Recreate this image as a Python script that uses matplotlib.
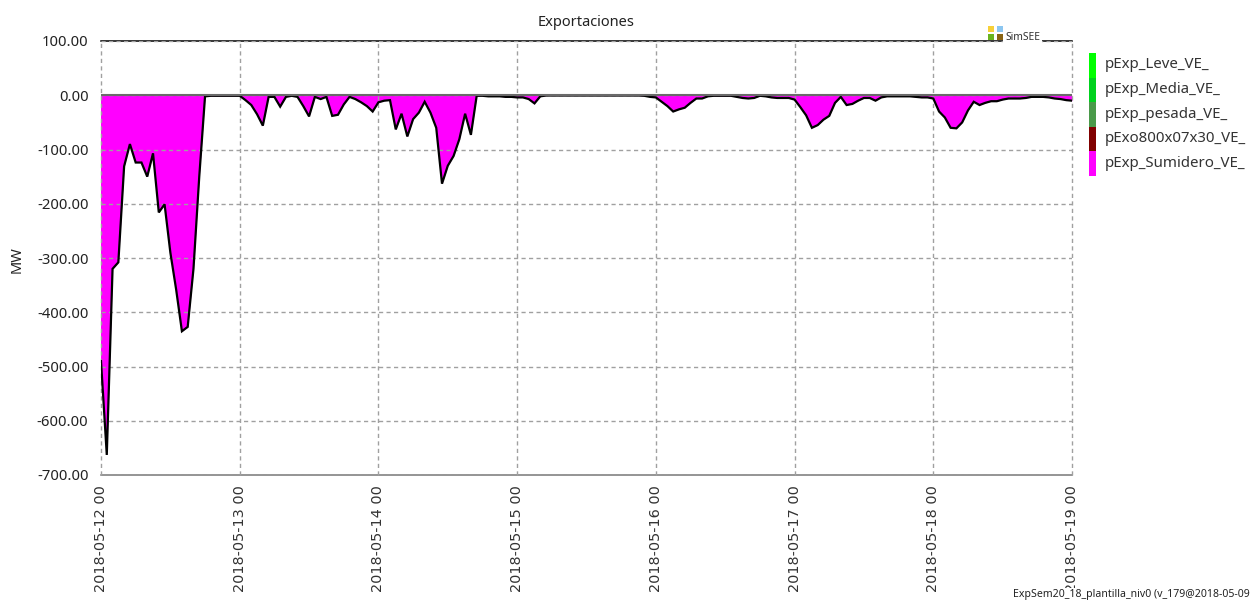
import matplotlib
matplotlib.use('Agg')
import matplotlib.pyplot as plt
import matplotlib.dates as mdates
from matplotlib.patches import Rectangle
import pandas as pd

plt.rcParams['font.family'] = ['Noto Sans', 'DejaVu Sans']

title = 'Exportaciones'
ylabel = 'MW'
footer = 'ExpSem20_18_plantilla_niv0 (v_179@2018-05-09'
start = '2018-05-12 00:00'

sumidero = [
    -490, -663, -320, -308, -131, -90, -124, -124, -150, -107, -216, -201,
    -290, -358, -435, -427, -320, -150, -2, -1, -1, -1, -1, -1,
    -1, -9, -18, -35, -56, -3, -3, -21, -3, -1, -3, -20,
    -39, -3, -7, -3, -38, -36, -17, -3, -7, -13, -20, -30,
    -13, -10, -9, -63, -34, -76, -44, -32, -12, -32, -60, -163,
    -130, -112, -81, -34, -73, -1, -1, -2, -2, -2, -3, -3,
    -4, -4, -7, -15, -2, -0.5, -0.5, -0.5, -0.5, -0.5, -0.5, -0.5,
    -0.5, -0.5, -0.5, -0.5, -0.5, -0.5, -0.5, -0.5, -0.5, -0.5, -1, -3,
    -4, -12, -20, -30, -26, -23, -14, -6, -6, -2, -1, -1,
    -1, -1, -3, -5, -6, -5, -1, -2, -4, -5, -5, -5,
    -8, -22, -37, -60, -55, -45, -38, -14, -3, -18, -16, -10,
    -5, -5, -10, -4, -2, -2, -2, -2, -2, -3, -4, -4,
    -6, -30, -41, -60, -61, -50, -28, -12, -18, -14, -11, -11,
    -8, -6, -6, -6, -5, -3, -3, -3, -4, -6, -7, -9,
    -10,
]
times = pd.date_range(start, periods=len(sumidero), freq='h')

series_names = ['pExp_Leve_VE_', 'pExp_Media_VE_', 'pExp_pesada_VE_',
                'pExo800x07x30_VE_', 'pExp_Sumidero_VE_']
series_colors = ['#00ff00', '#00d21e', '#4a9a4a', '#800000', '#ff00ff']
logo_colors = ['#f7d038', '#8cc6f0', '#6ab41e', '#8a6414']

y_ticks = [100, 0, -100, -200, -300, -400, -500, -600, -700]
x_ticks = pd.date_range(start, periods=8, freq='D')

W, H = 1252, 601
fig = plt.figure(figsize=(W / 100, H / 100), dpi=100, facecolor='white')
ax = fig.add_axes([101 / W, 1 - 475 / H, (1072 - 101) / W, (475 - 41) / H])

ax.fill_between(times, 0, sumidero, color=series_colors[4], lw=0, zorder=2)
ax.plot(times, sumidero, color='black', lw=1.6, zorder=3, solid_joinstyle='miter')
ax.plot([times[0], times[0]], [0, sumidero[0]], color='#ff00ff', lw=1.5, zorder=2)
ax.axhline(0, color='#6a6a6a', lw=1.5, zorder=3)

ax.set_xlim(x_ticks[0], x_ticks[-1])
ax.set_ylim(-700, 100)
ax.set_yticks(y_ticks)
ax.set_yticklabels([f'{v:.2f}' for v in y_ticks], fontsize=10.7, color='#222222')
ax.set_xticks(x_ticks)
ax.xaxis.set_major_formatter(mdates.DateFormatter('%Y-%m-%d %H'))
ax.tick_params(axis='x', labelrotation=90, labelsize=10.4, length=0, pad=7, labelcolor='#333333')
for lab in ax.get_xticklabels():
    lab.set_family('DejaVu Sans')
ax.tick_params(axis='y', length=0, pad=9)
ax.grid(True, color='#a0a0a0', lw=1.0, ls=(0, (3.0, 2.4)), zorder=4)
for gl in ax.get_xgridlines():
    gl.set_clip_on(False)
ax.set_axisbelow(False)

ax.spines['top'].set_color('black')
ax.spines['top'].set_linewidth(1.1)
ax.spines['bottom'].set_color('#777777')
ax.spines['bottom'].set_linewidth(1.1)
ax.spines['left'].set_visible(False)
ax.spines['right'].set_visible(False)

fig.text(586 / W, 1 - 23 / H, title, ha='center', va='center', fontsize=10.5, color='#222222')
fig.text(17 / W, 1 - 260 / H, ylabel, rotation=90, ha='center', va='center', fontsize=10.5, color='#222222')
fig.text(1013 / W, 1 - 595 / H, footer, ha='left', va='center', fontsize=7.6, color='#222222',
         bbox=dict(facecolor='white', edgecolor='none', pad=1.0))

# SimSEE logo
fig.text(1005 / W, 1 - 37 / H, 'SimSEE', ha='left', va='center', fontsize=7.4, color='#333333',
         bbox=dict(facecolor='white', edgecolor='none', pad=1.5), zorder=5)
for i, c in enumerate(logo_colors):
    px = 988 + (i % 2) * 9
    py = 26 + (i // 2) * 8
    fig.add_artist(Rectangle((px / W, 1 - (py + 6) / H), 6 / W, 6 / H,
                             transform=fig.transFigure, facecolor=c, edgecolor='none', zorder=6))

# legend
for i, (name, c) in enumerate(zip(series_names, series_colors)):
    top = 53 + i * 24.6
    fig.add_artist(Rectangle((1089 / W, 1 - (top + 24.6) / H), 7 / W, 24.6 / H,
                             transform=fig.transFigure, facecolor=c, edgecolor='none'))
    fig.text(1105 / W, 1 - (top + 12) / H, name, ha='left', va='center', fontsize=10.8, color='#333333')

fig.savefig('out.png', dpi=100)
